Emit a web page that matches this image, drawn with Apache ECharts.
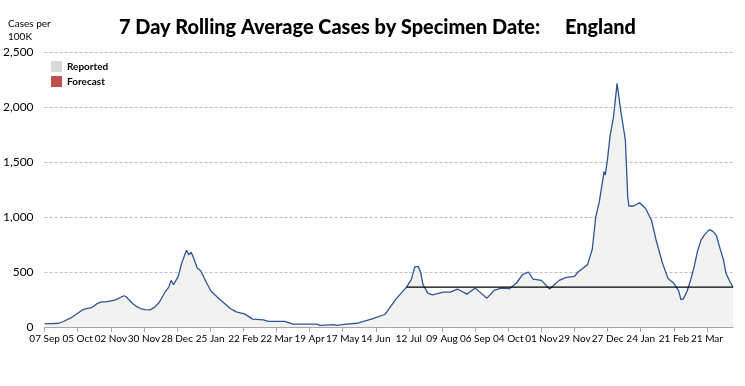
<!DOCTYPE html>
<html>
<head>
<meta charset="utf-8">
<script src="https://cdn.jsdelivr.net/npm/echarts@6/dist/echarts.min.js"></script>
<style>
html,body{margin:0;padding:0;background:#fff;}
#chart{width:745px;height:386px;}
</style>
</head>
<body>
<div id="chart"></div>
<script>
// Days since 07 Sep 2020
const days = [0,6,12,16,23,28,32,36,40,44,48,52,56,60,64,67,69,72,75,78,81,85,89,93,97,102,105,107,109,113,116,118,120,122,124,126,129,132,137,141,148,157,162,169,176,185,189,203,210,230,233,245,247,255,264,269,277,288,297,306,310,313,316,318,320,324,328,337,343,349,357,364,369,374,380,386,393,399,404,409,413,420,427,435,441,448,451,459,463,466,469,473,474,476,478,481,484,487,491,493,494,498,503,508,513,517,522,527,532,536,538,540,543,546,549,552,555,558,562,565,568,571,574,576,579,582];
const reported = [30,30,34,50,88,125,155,170,177,210,229,228,238,247,268,284,275,240,210,185,168,158,156,178,225,320,363,424,384,460,583,640,698,656,680,628,537,512,400,323,253,168,137,119,72,64,52,52,27,27,15,21,15,27,34,49,73,116,253,363,430,546,552,491,384,308,293,317,317,345,299,354,308,262,332,354,348,400,476,500,436,424,345,424,451,460,500,567,705,1003,1139,1412,1382,1533,1730,1912,2215,1973,1700,1185,1100,1100,1130,1079,973,791,594,442,397,330,250,256,320,420,540,690,790,840,885,870,830,715,609,491,420,363];
const thresholdDays = [306, 582];
const thresholdValue = 363;
const tickLabels = ['07 Sep','05 Oct','02 Nov','30 Nov','28 Dec','25 Jan','22 Feb','22 Mar','19 Apr','17 May','14 Jun','12 Jul','09 Aug','06 Sep','04 Oct','01 Nov','29 Nov','27 Dec','24 Jan','21 Feb','21 Mar'];
const tickStep = 28;

const reportedData = days.map((d, i) => [d, reported[i]]);
const thresholdData = thresholdDays.map(d => [d, thresholdValue]);
const tickValues = tickLabels.map((_, i) => i * tickStep);

const chart = echarts.init(document.getElementById('chart'));
const font = 'Lato, "Open Sans", sans-serif';
chart.setOption({
  animation: false,
  title: [
    {text: '7 Day Rolling Average Cases by Specimen Date:', left: 114, top: 13,
     textStyle: {fontFamily: font, fontSize: 19.9, fontWeight: 900, color: '#000'}},
    {text: 'England', left: 560, top: 13,
     textStyle: {fontFamily: font, fontSize: 19.9, fontWeight: 900, color: '#000'}},
    {text: 'Cases per\n100K', left: 3, top: 12,
     textStyle: {fontFamily: font, fontSize: 10, fontWeight: 'normal', color: '#000', lineHeight: 13}}
  ],
  legend: {
    orient: 'vertical', left: 46, top: 56, itemGap: 4, itemWidth: 11, itemHeight: 11,
    textStyle: {fontFamily: font, fontSize: 10, fontWeight: 'bold', color: '#000'},
    data: [
      {name: 'Reported', icon: 'rect', itemStyle: {color: '#d9d9d9'}},
      {name: 'Forecast', icon: 'rect', itemStyle: {color: '#c0504d'}}
    ]
  },
  grid: {left: 44, right: 12, top: 52, bottom: 59},
  xAxis: {
    type: 'value', min: 0, max: 582,
    axisLine: {show: true, lineStyle: {color: '#a6a6a6', width: 1}},
    axisTick: {show: true, length: 5, lineStyle: {color: '#a6a6a6'}, customValues: tickValues},
    axisLabel: {customValues: tickValues, fontFamily: font, fontSize: 10, color: '#000', margin: 7,
      showMinLabel: true, showMaxLabel: true, hideOverlap: false, interval: 0,
      formatter: v => tickLabels[Math.round(v / tickStep)] || ''},
    splitLine: {show: false}
  },
  yAxis: {
    type: 'value', min: 0, max: 2500, interval: 500,
    axisLine: {show: false}, axisTick: {show: false},
    axisLabel: {fontFamily: font, fontSize: 12, color: '#000', margin: 11,
      formatter: v => v.toLocaleString('en-US')},
    splitLine: {lineStyle: {color: '#bfbfbf', type: [3, 2], width: 1}}
  },
  series: [
    {name: 'Reported', type: 'line', data: reportedData, showSymbol: false, symbol: 'none',
     lineStyle: {color: '#2f5494', width: 1.3}, areaStyle: {color: '#f2f2f2', opacity: 1},
     itemStyle: {color: '#d9d9d9'}, z: 2},
    {name: 'Forecast', type: 'line', data: [], showSymbol: false,
     itemStyle: {color: '#c0504d'}, lineStyle: {color: '#c0504d'}},
    {name: 'Threshold', type: 'line', data: thresholdData, showSymbol: false, symbol: 'none',
     lineStyle: {color: '#000', width: 1.3}, z: 3}
  ]
});
</script>
</body>
</html>
